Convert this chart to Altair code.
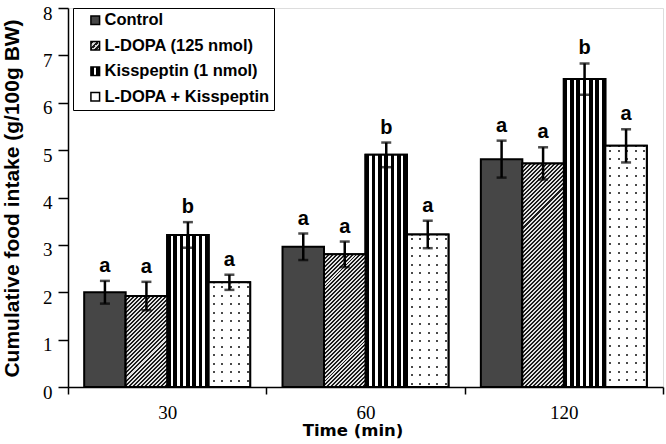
import altair as alt
import pandas as pd

# Cumulative food intake (g/100g BW) at each time point, mean and error per treatment
times = ["30", "60", "120"]
groups = ["Control", "L-DOPA (125 nmol)", "Kisspeptin (1 nmol)", "L-DOPA + Kisspeptin"]

control_mean = [2.00, 2.96, 4.81]
ldopa_mean = [1.92, 2.80, 4.72]
kiss_mean = [3.21, 4.90, 6.50]
combo_mean = [2.21, 3.22, 5.09]

control_err = [0.24, 0.28, 0.39]
ldopa_err = [0.30, 0.27, 0.34]
kiss_err = [0.27, 0.26, 0.33]
combo_err = [0.16, 0.29, 0.35]

control_sig = ["a", "a", "a"]
ldopa_sig = ["a", "a", "a"]
kiss_sig = ["b", "b", "b"]
combo_sig = ["a", "a", "a"]

means = [control_mean, ldopa_mean, kiss_mean, combo_mean]
errs = [control_err, ldopa_err, kiss_err, combo_err]
sigs = [control_sig, ldopa_sig, kiss_sig, combo_sig]

rows = []
for g, m, e, s in zip(groups, means, errs, sigs):
    for t, mv, ev, sv in zip(times, m, e, s):
        rows.append({"time": t, "group": g, "mean": mv, "lo": mv - ev, "hi": mv + ev, "sig": sv})
df = pd.DataFrame(rows)

# plot geometry
W, H = 595, 379
Y_MAX = 8
PX_PER_UNIT = H / Y_MAX
OUTER = 0.39
BAR_W = (W / len(times)) / (len(groups) + 2 * OUTER)

FONT = "Liberation Sans"
SERIF = "Liberation Serif"
CLEAR_W = "rgba(255,255,255,0)"
DOT = "#4a4a4a"
CLEAR_D = "rgba(74,74,74,0)"


def hard_stops(n, dark, light, frac=0.5):
    """Alternating colour bands with sharp edges along a gradient."""
    stops = []
    for i in range(n):
        a = i / n
        b = (i + frac) / n
        c = (i + 1) / n
        stops += [
            {"offset": a, "color": dark},
            {"offset": b, "color": dark},
            {"offset": b, "color": light},
            {"offset": c, "color": light},
        ]
    return stops


def bands(length, start, pitch, thick, on, off):
    """Thin bands of colour `on` every `pitch` px over a background `off`."""
    stops = [{"offset": 0, "color": off}]
    pos = start
    while pos + thick < length:
        a, b = pos / length, (pos + thick) / length
        stops += [{"offset": a, "color": off}, {"offset": a, "color": on},
                  {"offset": b, "color": on}, {"offset": b, "color": off}]
        pos += pitch
    stops.append({"offset": 1, "color": off})
    return stops


def bar_stripes(n_dark, dark_px, width):
    """Dark stripes at both edges with light gaps between them."""
    light_px = (width - n_dark * dark_px) / (n_dark - 1)
    stops, pos = [], 0.0
    for i in range(n_dark):
        end = pos + dark_px
        stops += [{"offset": pos / width, "color": "#000000"},
                  {"offset": min(end / width, 1), "color": "#000000"}]
        if i < n_dark - 1:
            nxt = end + light_px
            stops += [{"offset": end / width, "color": "#ffffff"},
                      {"offset": nxt / width, "color": "#ffffff"}]
            pos = nxt
    return stops


def stops_expr(stops):
    return "[" + ", ".join(
        "{offset: %g, color: '%s'}" % (s["offset"], s["color"]) for s in stops
    ) + "]"


def gradient_expr(x2, y2, stops):
    return {"expr": "{gradient: 'linear', x1: 0, y1: 0, x2: %g, y2: %g, stops: %s}"
            % (x2, y2, stops_expr(stops))}


# vertical stripes for the kisspeptin bars
stripes = {
    "gradient": "linear",
    "x1": 0, "y1": 0, "x2": 1, "y2": 0,
    "stops": bar_stripes(7, 3.6, BAR_W),
}

# dot grid for the combined-treatment bars: rows of dots masked down to columns
DOT_PITCH, DOT_SIZE = 8.5, 2.0
dot_columns_mask = {
    "gradient": "linear",
    "x1": 0, "y1": 0, "x2": 1, "y2": 0,
    "stops": bands(BAR_W, 4.0, DOT_PITCH, DOT_SIZE, CLEAR_W, "#ffffff"),
}


def dot_rows(value):
    h = max(value * PX_PER_UNIT, 1.0)
    return {
        "gradient": "linear",
        "x1": 0, "y1": 0, "x2": 0, "y2": 1,
        "stops": bands(h, 4.0, DOT_PITCH, DOT_SIZE, DOT, CLEAR_D),
    }


def diagonal_hatch(value, period=4.0):
    """45-degree hatching for a bar of the given data height."""
    w = BAR_W
    h = max(value * PX_PER_UNIT, 1.0)
    k = (w + h) / (w * w + h * h)
    n = max(int(round((w + h) / period)), 1)
    return {
        "gradient": "linear",
        "x1": 0, "y1": 0, "x2": k * w, "y2": k * h,
        "stops": hard_stops(n, "#1c1c1c", "#e2e2e2", 0.5),
    }


# legend swatch fills (small squares)
swatch_kiss = [
    {"offset": 0, "color": "#000000"}, {"offset": 0.36, "color": "#000000"},
    {"offset": 0.36, "color": "#ffffff"}, {"offset": 0.64, "color": "#ffffff"},
    {"offset": 0.64, "color": "#000000"}, {"offset": 1, "color": "#000000"},
]
color_range = [
    "#464646",
    gradient_expr(1, 1, hard_stops(3, "#1c1c1c", "#d8d8d8", 0.5)),
    gradient_expr(1, 0, swatch_kiss),
    "#ffffff",
]

x_enc = alt.X(
    "time:N",
    sort=times,
    scale=alt.Scale(paddingInner=0, paddingOuter=0),
    axis=alt.Axis(
        title="Time (min)",
        labelAngle=0,
        tickBand="extent",
        tickSize=7,
        tickWidth=1.5,
        tickColor="black",
        domainColor="black",
        domainWidth=1.5,
        labelFont=SERIF,
        labelFontSize=19,
        labelColor="black",
        labelPadding=9,
        titleFont="DejaVu Sans",
        titleFontSize=16.5,
        titleFontWeight="bold",
        titleColor="black",
        titleX=284.5,
        titleY=48,
        titleBaseline="alphabetic",
    ),
)
xoff = alt.XOffset("group:N", sort=groups, scale=alt.Scale(paddingInner=0, paddingOuter=OUTER))
y_enc = alt.Y(
    "mean:Q",
    scale=alt.Scale(domain=[0, Y_MAX], nice=False),
    axis=alt.Axis(
        title="Cumulative food intake (g/100g BW)",
        values=list(range(0, Y_MAX + 1)),
        grid=False,
        tickSize=10,
        tickWidth=1.5,
        tickColor="black",
        domainColor="black",
        domainWidth=1.5,
        labelFont=SERIF,
        labelFontSize=19,
        labelColor="black",
        labelPadding=6,
        labelOffset=5,
        titleFont=FONT,
        titleFontSize=21,
        titleFontWeight="bold",
        titleColor="black",
        titleX=-50,
        titleY=190,
        titleBaseline="alphabetic",
    ),
)

base = alt.Chart(df)

bars = base.mark_bar(stroke="black", strokeWidth=2).encode(
    x=x_enc,
    xOffset=xoff,
    y=y_enc,
    color=alt.Color(
        "group:N",
        sort=groups,
        scale=alt.Scale(domain=groups, range=color_range),
        legend=alt.Legend(
            title=None,
            orient="none",
            legendX=5,
            legendY=0,
            symbolType="square",
            symbolSize=75,
            symbolStrokeColor="black",
            symbolStrokeWidth=1.5,
            symbolOffset=10,
            labelFont=FONT,
            labelFontSize=16.5,
            labelFontWeight="bold",
            labelColor="black",
            labelOffset=1,
            labelLimit=300,
            rowPadding=8.5,
            padding=4,
            strokeColor="black",
            fillColor="white",
        ),
    ),
)

kiss_bars = base.transform_filter(alt.datum.group == groups[2]).mark_bar(
    fill=stripes, stroke="black", strokeWidth=2
).encode(x=x_enc, xOffset=xoff, y="mean:Q")

pattern_layers = []
for t, v in zip(times, ldopa_mean):
    pattern_layers.append(
        base.transform_filter((alt.datum.group == groups[1]) & (alt.datum.time == t))
        .mark_bar(fill=diagonal_hatch(v), stroke="black", strokeWidth=2)
        .encode(x=x_enc, xOffset=xoff, y="mean:Q")
    )
for t, v in zip(times, combo_mean):
    pattern_layers.append(
        base.transform_filter((alt.datum.group == groups[3]) & (alt.datum.time == t))
        .mark_bar(fill=dot_rows(v), strokeWidth=0)
        .encode(x=x_enc, xOffset=xoff, y="mean:Q")
    )
pattern_layers.append(
    base.transform_filter(alt.datum.group == groups[3])
    .mark_bar(fill=dot_columns_mask, stroke="black", strokeWidth=2)
    .encode(x=x_enc, xOffset=xoff, y="mean:Q")
)

whisker = base.mark_rule(color="black", strokeWidth=2.5).encode(
    x=x_enc, xOffset=xoff, y="lo:Q", y2="hi:Q"
)
cap_hi = base.mark_tick(color="black", thickness=2.5, size=10, orient="horizontal").encode(
    x=x_enc, xOffset=xoff, y="hi:Q"
)
cap_lo = base.mark_tick(color="black", thickness=2.5, size=10, orient="horizontal").encode(
    x=x_enc, xOffset=xoff, y="lo:Q"
)
letters = base.mark_text(
    font=FONT, fontSize=20, fontWeight="bold", color="black", baseline="alphabetic", dy=-9
).encode(x=x_enc, xOffset=xoff, y="hi:Q", text="sig:N")

chart = alt.layer(bars, kiss_bars, *pattern_layers, whisker, cap_hi, cap_lo, letters).properties(
    width=W,
    height=H,
    autosize=alt.AutoSizeParams(type="none"),
    padding={"left": 68, "top": 8, "right": 3, "bottom": 57},
).configure_view(stroke=None).configure(background="white")

chart.save("out.html", embed_options={"renderer": "svg", "actions": False})
